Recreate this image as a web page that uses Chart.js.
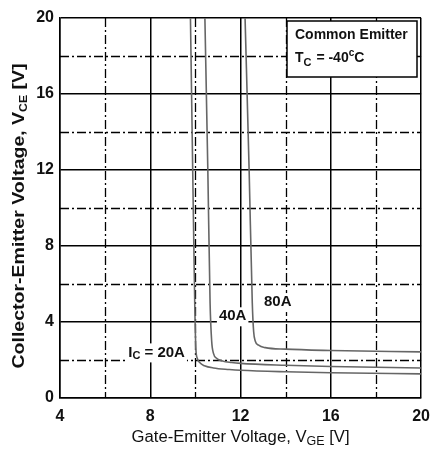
<!DOCTYPE html>
<html><head><meta charset="utf-8">
<script src="https://cdn.jsdelivr.net/npm/chart.js@4"></script>
<style>html,body{margin:0;padding:0;background:#fff}#wrap{width:439px;height:450px}</style>
</head><body><div id="wrap"><canvas id="c" width="439" height="450"></canvas></div>
<script>
// ---- data ----
const vge20 = [9.78, 9.88, 9.97, 10.02, 10.08, 10.2, 10.4, 10.8, 11.5, 12, 14, 16, 20];
const vce20 = [20, 12, 5, 2.6, 2.1, 1.85, 1.7, 1.58, 1.5, 1.46, 1.38, 1.33, 1.27];
const vge40 = [10.42, 10.55, 10.65, 10.72, 10.8, 10.95, 11.2, 11.6, 12, 14, 16, 20];
const vce40 = [20, 12, 5, 3.0, 2.35, 2.08, 1.95, 1.87, 1.82, 1.72, 1.66, 1.58];
const vge80 = [12.2, 12.38, 12.52, 12.58, 12.65, 12.8, 13.1, 14, 16, 20];
const vce80 = [20, 12, 5, 3.5, 3.0, 2.78, 2.65, 2.57, 2.5, 2.43];
const xTicks = [4, 8, 12, 16, 20];
const yTicks = [0, 4, 8, 12, 16, 20];
const curveLabels = [
  {main: 'I', sub: 'C', rest: ' = 20A', x: 8.28, y: 2.4},
  {main: '40A', x: 11.65, y: 4.3},
  {main: '80A', x: 13.65, y: 5.05}
];
const legendLines = ['Common Emitter', '-40'];

const pts = (xs, ys) => xs.map((x, i) => ({x, y: ys[i]}));
const FONT = '"Liberation Sans", Arial, sans-serif';

function drawSub(ctx, x, y, parts) {
  let cx = x;
  for (const p of parts) {
    ctx.font = p.font;
    ctx.fillText(p.t, cx, y + (p.dy || 0));
    cx += ctx.measureText(p.t).width + (p.kern || 0);
  }
  return cx - x;
}
function measureParts(ctx, parts) {
  let w = 0;
  for (const p of parts) { ctx.font = p.font; w += ctx.measureText(p.t).width + (p.kern || 0); }
  return w;
}
function drawFitted(ctx, parts, cx, cy, targetW) {
  const w = measureParts(ctx, parts);
  ctx.save();
  ctx.translate(cx, cy);
  ctx.scale(targetW / w, 1);
  drawSub(ctx, -w / 2, 0, parts);
  ctx.restore();
}

const minorGrid = {
  id: 'minorGrid',
  beforeDatasetsDraw(chart) {
    const {ctx, chartArea: a, scales: {x, y}} = chart;
    ctx.save();
    ctx.strokeStyle = '#000';
    ctx.lineWidth = 1.3;
    ctx.setLineDash([9, 3, 2, 3]);
    for (let v = 6; v < 20; v += 4) {
      const px = Math.round(x.getPixelForValue(v)) + 0.5;
      ctx.beginPath(); ctx.moveTo(px, a.top); ctx.lineTo(px, a.bottom); ctx.stroke();
    }
    for (let v = 2; v < 20; v += 4) {
      const py = Math.round(y.getPixelForValue(v)) + 0.5;
      ctx.beginPath(); ctx.moveTo(a.left, py); ctx.lineTo(a.right, py); ctx.stroke();
    }
    ctx.restore();
  },
  afterDraw(chart) {
    const {ctx, chartArea: a, scales: {x, y}} = chart;
    ctx.save();
    ctx.fillStyle = '#111';
    ctx.textBaseline = 'middle';
    // curve labels
    const bold15 = 'bold 15px ' + FONT;
    const bold11 = 'bold 11px ' + FONT;
    for (const l of curveLabels) {
      const parts = [{t: l.main, font: bold15}];
      if (l.sub) { parts.push({t: l.sub, font: bold11, dy: 4}); parts.push({t: l.rest, font: bold15}); }
      const w = measureParts(ctx, parts);
      const cx = x.getPixelForValue(l.x), cy = y.getPixelForValue(l.y);
      ctx.fillStyle = '#fff';
      ctx.fillRect(cx - w / 2 - 2, cy - 9, w + 4, 19);
      ctx.fillStyle = '#111';
      drawSub(ctx, cx - w / 2, cy, parts);
    }
    // legend box
    const bx = 287, by = 21, bw = 130, bh = 56;
    ctx.fillStyle = '#fff';
    ctx.fillRect(bx, by, bw, bh);
    ctx.strokeStyle = '#000'; ctx.lineWidth = 1.5;
    ctx.strokeRect(bx, by, bw, bh);
    ctx.fillStyle = '#111';
    ctx.font = 'bold 14px ' + FONT;
    ctx.fillText(legendLines[0], 295, 35);
    drawSub(ctx, 295, 58, [
      {t: 'T', font: 'bold 14px ' + FONT},
      {t: 'C', font: 'bold 11px ' + FONT, dy: 5, kern: 1},
      {t: ' = ' + legendLines[1], font: 'bold 14px ' + FONT},
      {t: 'c', font: 'bold 10px ' + FONT, dy: -5},
      {t: 'C', font: 'bold 14px ' + FONT}
    ]);
    // x title
    drawFitted(ctx, [
      {t: 'Gate-Emitter Voltage, V', font: '16px ' + FONT},
      {t: 'GE', font: '12px ' + FONT, dy: 4},
      {t: ' [V]', font: '16px ' + FONT}
    ], (a.left + a.right) / 2, 438, 218);
    // y title
    ctx.save();
    ctx.translate(20, 216);
    ctx.rotate(-Math.PI / 2);
    drawFitted(ctx, [
      {t: 'Collector-Emitter Voltage, V', font: 'bold 16px ' + FONT},
      {t: 'CE', font: 'bold 10px ' + FONT, dy: 4},
      {t: ' [V]', font: 'bold 16px ' + FONT}
    ], 0, 0, 305);
    ctx.restore();
    ctx.restore();
  }
};

const lineStyle = {borderColor: '#666', borderWidth: 1.6, pointRadius: 0, showLine: true, fill: false, cubicInterpolationMode: 'monotone'};

new Chart(document.getElementById('c'), {
  type: 'scatter',
  data: {datasets: [
    Object.assign({label: '20A', data: pts(vge20, vce20)}, lineStyle),
    Object.assign({label: '40A', data: pts(vge40, vce40)}, lineStyle),
    Object.assign({label: '80A', data: pts(vge80, vce80)}, lineStyle)
  ]},
  options: {
    responsive: false, animation: false, devicePixelRatio: 1,
    layout: {padding: {top: 18, right: 11, left: 0, bottom: 0}},
    plugins: {legend: {display: false}, tooltip: {enabled: false}},
    scales: {
      x: {
        type: 'linear', min: 4, max: 20,
        afterFit: s => { s.height = 52; },
        afterBuildTicks: s => { s.ticks = xTicks.map(v => ({value: v})); },
        grid: {color: '#000', lineWidth: 1.5, drawTicks: false},
        border: {color: '#000', width: 1.5},
        ticks: {color: '#111', padding: 9, font: {family: FONT, size: 16, weight: 'bold'}, maxRotation: 0}
      },
      y: {
        type: 'linear', min: 0, max: 20,
        afterFit: s => { s.width = 60; },
        afterBuildTicks: s => { s.ticks = yTicks.map(v => ({value: v})); },
        grid: {color: '#000', lineWidth: 1.5, drawTicks: false},
        border: {color: '#000', width: 1.5},
        ticks: {color: '#111', padding: 6, font: {family: FONT, size: 16, weight: 'bold'}}
      }
    }
  },
  plugins: [minorGrid]
});
</script></body></html>
